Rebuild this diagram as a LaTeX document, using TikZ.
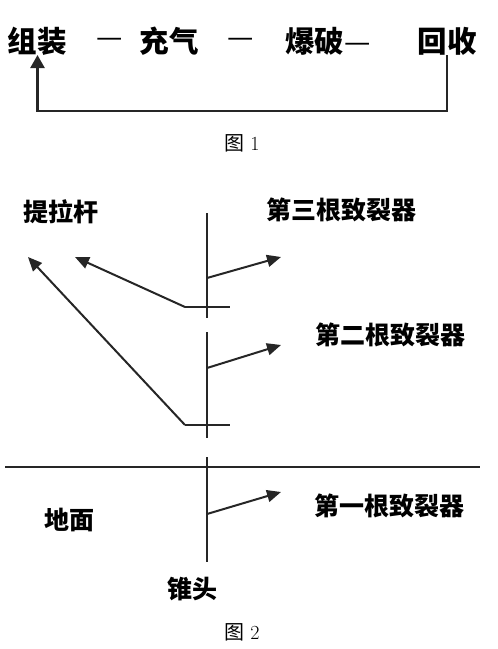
\documentclass[tikz,border=0pt]{standalone}
\usepackage{fontspec}
\newfontfamily\cjk{Noto Sans CJK SC}
\usetikzlibrary{arrows.meta}
\begin{document}
\begin{tikzpicture}[x=1pt,y=-1pt,
  big/.style={font=\cjk\bfseries\fontsize{29.5}{31}\selectfont,inner sep=0pt},
  dashtxt/.style={font=\cjk\fontsize{29.5}{31}\selectfont,inner sep=0pt},
  lab/.style={font=\cjk\bfseries\fontsize{25}{27}\selectfont,inner sep=0pt},
  captxt/.style={font=\fontsize{20}{22}\selectfont,inner sep=0pt},
  ln/.style={line width=2.3pt,black!85},
  rod/.style={line width=2pt,black!85},
  arr/.style={line width=2pt,black!85,-{Triangle[length=14pt,width=12pt]}},
]
\useasboundingbox (0,0) rectangle (498,649);
% Figure 1
\node[big] (zz) at (37.5,41) {组装};
\node[dashtxt] (d1) at (110,43) {—};
\node[big] (cq) at (169,41) {充气};
\node[dashtxt] (d2) at (241,43) {—};
\node[big] (bp) at (328,41) {爆破{\mdseries —}};
\node[big] (hs) at (447,41) {回收};
\coordinate (hb) at (447,55);
\coordinate (zb) at (37.5,55);
\draw[ln,-{Triangle[length=13pt,width=14pt]}] (hb) -- (447,111) -| (zb);
\node[captxt] (c1) at (242,143) {{\cjk 图}\ 1};
% Figure 2
\node[lab] (tlg) at (61,212) {提拉杆};
\node[lab] (d3) at (341,210) {第三根致裂器};
\node[lab] (d2l) at (390,335) {第二根致裂器};
\node[lab] (d1l) at (389,506) {第一根致裂器};
\node[lab] (dm) at (70,520) {地面};
\node[lab] (zt) at (192,589) {锥头};
\node[captxt] (c2) at (242,632) {{\cjk 图}\ 2};
% rods
\coordinate (r1t) at (207,213); \coordinate (r1b) at (207,318);
\coordinate (r2t) at (207,332); \coordinate (r2b) at (207,438);
\coordinate (r3t) at (207,457); \coordinate (r3b) at (207,562);
\draw[rod] (r1t) -- (r1b);
\draw[rod] (r2t) -- (r2b);
\draw[rod] (r3t) -- (r3b);
% crossbars
\coordinate (cb1l) at (185,307); \coordinate (cb1r) at (230,307);
\coordinate (cb2l) at (185,425); \coordinate (cb2r) at (230,425);
\draw[rod] (cb1l) -- (cb1r);
\draw[rod] (cb2l) -- (cb2r);
% pull rod arrows
\coordinate (t1) at (75,257); \coordinate (t2) at (28,257);
\draw[arr] (cb1l) -- (t1);
\draw[arr] (cb2l) -- (t2);
% cracker arrows
\coordinate (a3s) at (207,278); \coordinate (a3e) at (281,257);
\coordinate (a2s) at (207,368); \coordinate (a2e) at (281,345);
\coordinate (a1s) at (207,514); \coordinate (a1e) at (281,492);
\draw[arr] (a3s) -- (a3e);
\draw[arr] (a2s) -- (a2e);
\draw[arr] (a1s) -- (a1e);
% ground
\coordinate (gl) at (5,467); \coordinate (gr) at (480,467);
\draw[rod] (gl) -- (gr);
\end{tikzpicture}
\end{document}
